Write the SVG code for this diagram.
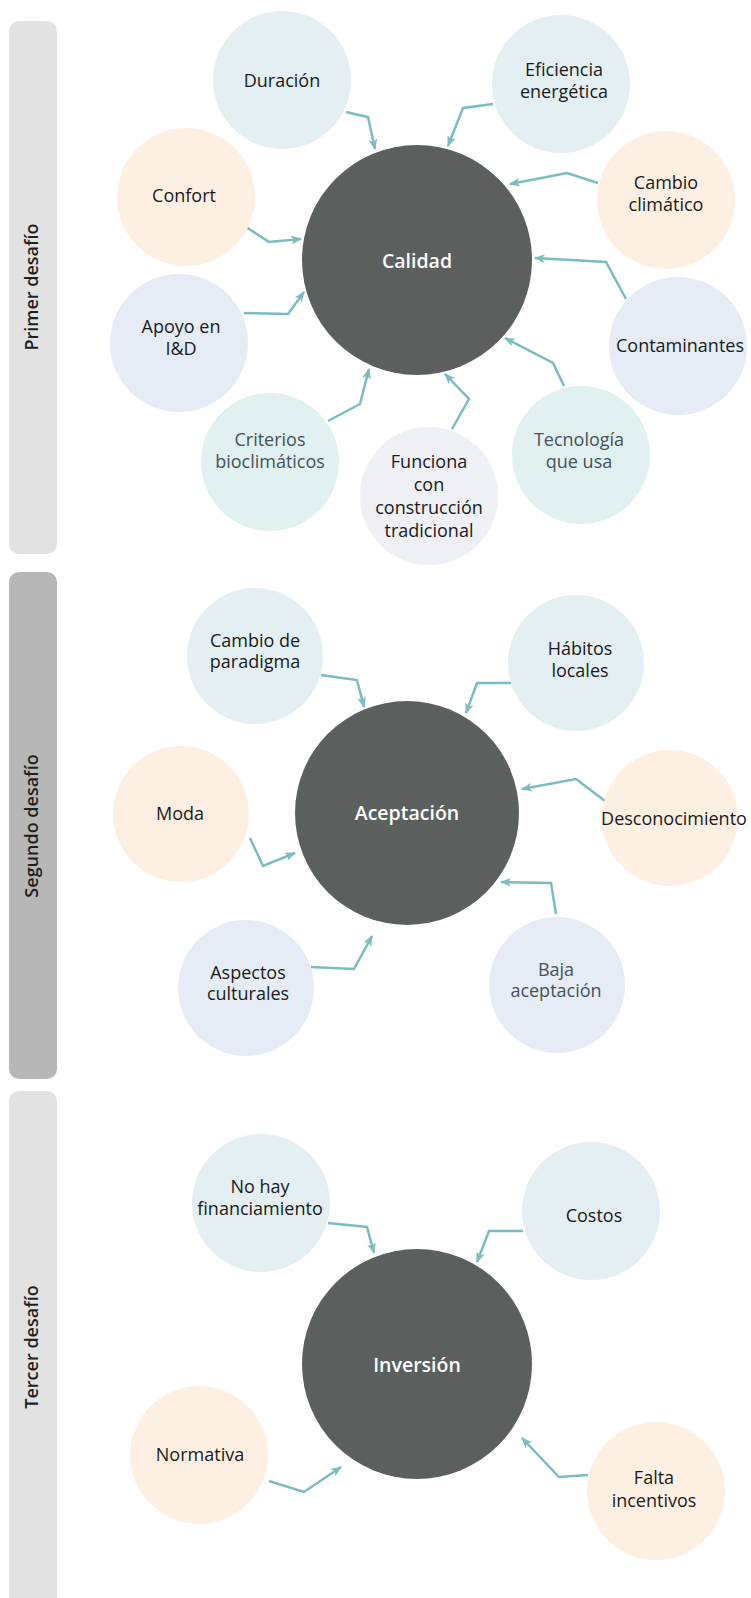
<svg xmlns="http://www.w3.org/2000/svg" width="751" height="1598" viewBox="0 0 751 1598">
<defs>
<style>
.bar1{fill:#e2e2e2}
.bar2{fill:#b6b7b6}
.side{font-family:"Open Sans","Noto Sans",sans-serif;font-size:18px;font-weight:600;fill:#1f1f1f;text-anchor:middle}
.blue{fill:#e3eff3}
.peach{fill:#fdf0e3}
.lav{fill:#e5ecf6}
.teal{fill:#e1f0f0}
.lilac{fill:#efeff6}
.hub{fill:#5b605f}
.t{font-family:"Open Sans","Noto Sans",sans-serif;font-size:18px;fill:#1a1a1a;text-anchor:middle}
.tg{fill:#46525a}
.th{font-family:"Open Sans","Noto Sans",sans-serif;font-size:19.5px;font-weight:600;fill:#ffffff;text-anchor:middle}
.c{fill:none;stroke:#7bbcc0;stroke-width:2.5;stroke-linejoin:miter;marker-end:url(#ah)}
</style>
<marker id="ah" viewBox="0 0 10 8" markerWidth="11" markerHeight="9" refX="9" refY="4" orient="auto" markerUnits="userSpaceOnUse">
<path d="M0,0 L10,4 L0,8 L2.5,4 z" fill="#7bbcc0"/>
</marker>
</defs>

<g id="bars">
<rect class="bar1" x="9" y="21" width="48" height="533" rx="10"/>
<rect class="bar2" x="9" y="572" width="48" height="507" rx="10"/>
<rect class="bar1" x="9" y="1091" width="48" height="520" rx="10"/>
<text class="side" transform="translate(38,287) rotate(-90)">Primer desafío</text>
<text class="side" transform="translate(38,826) rotate(-90)">Segundo desafío</text>
<text class="side" transform="translate(38,1347) rotate(-90)">Tercer desafío</text>
</g>

<g id="connectors">
<polyline class="c" points="346,112 368,117 375,149"/>
<polyline class="c" points="493,104 463,108 448,146"/>
<polyline class="c" points="598,183 567,173 510,184"/>
<polyline class="c" points="626,299 606,262 535,258"/>
<polyline class="c" points="564,386 553,363 505,338"/>
<polyline class="c" points="452,429 469,399 445,374"/>
<polyline class="c" points="328,421 360,404 369,369"/>
<polyline class="c" points="244,313 288,314 304,292"/>
<polyline class="c" points="246,227 269,242 301,239"/>
<polyline class="c" points="321,675 357,680 364,707"/>
<polyline class="c" points="250,838 263,866 295,853"/>
<polyline class="c" points="311,967 354,969 372,936"/>
<polyline class="c" points="511,683 477,683 466,713"/>
<polyline class="c" points="605,801 576,779 522,789"/>
<polyline class="c" points="556,914 551,883 501,882"/>
<polyline class="c" points="328,1223 367,1227 374,1253"/>
<polyline class="c" points="269,1481 304,1492 341,1467"/>
<polyline class="c" points="523,1231 489,1231 477,1262"/>
<polyline class="c" points="588,1475 559,1477 522,1438"/>
</g>

<g id="calidad"><circle class="hub" cx="417" cy="260" r="115"/><text class="th" x="417" y="268">Calidad</text></g>
<g id="duracion"><circle class="blue" cx="282" cy="80" r="69"/><text class="t" x="282" y="87">Duración</text></g>
<g id="eficiencia"><circle class="blue" cx="561" cy="84" r="69"/><text class="t" x="564" y="76">Eficiencia</text><text class="t" x="564" y="98">energética</text></g>
<g id="confort"><circle class="peach" cx="186" cy="197" r="69"/><text class="t" x="184" y="202">Confort</text></g>
<g id="cambio-climatico"><circle class="peach" cx="666" cy="200" r="69"/><text class="t" x="666" y="189">Cambio</text><text class="t" x="666" y="211">climático</text></g>
<g id="apoyo"><circle class="lav" cx="179" cy="343" r="69"/><text class="t" x="181" y="333">Apoyo en</text><text class="t" x="181" y="355">I&amp;D</text></g>
<g id="contaminantes"><circle class="lav" cx="678" cy="346" r="69"/><text class="t" x="680" y="352">Contaminantes</text></g>
<g id="criterios"><circle class="teal" cx="270" cy="462" r="69"/><text class="t tg" x="270" y="446">Criterios</text><text class="t tg" x="270" y="468">bioclimáticos</text></g>
<g id="funciona"><circle class="lilac" cx="429" cy="496" r="69"/><text class="t" x="429" y="468">Funciona</text><text class="t" x="429" y="491">con</text><text class="t" x="429" y="514">construcción</text><text class="t" x="429" y="537">tradicional</text></g>
<g id="tecnologia"><circle class="teal" cx="581" cy="455" r="69"/><text class="t tg" x="579" y="446">Tecnología</text><text class="t tg" x="579" y="468">que usa</text></g>

<g id="aceptacion"><circle class="hub" cx="407" cy="813" r="112"/><text class="th" x="407" y="820">Aceptación</text></g>
<g id="cambio-paradigma"><circle class="blue" cx="255" cy="656" r="68"/><text class="t" x="255" y="647">Cambio de</text><text class="t" x="255" y="668">paradigma</text></g>
<g id="habitos"><circle class="blue" cx="576" cy="663" r="68"/><text class="t" x="580" y="655">Hábitos</text><text class="t" x="580" y="677">locales</text></g>
<g id="moda"><circle class="peach" cx="181" cy="814" r="68"/><text class="t" x="180" y="820">Moda</text></g>
<g id="desconocimiento"><circle class="peach" cx="670" cy="818" r="68"/><text class="t" x="674" y="825">Desconocimiento</text></g>
<g id="aspectos"><circle class="lav" cx="246" cy="988" r="68"/><text class="t" x="248" y="979">Aspectos</text><text class="t" x="248" y="1000">culturales</text></g>
<g id="baja"><circle class="lav" cx="557" cy="985" r="68"/><text class="t tg" x="556" y="976">Baja</text><text class="t tg" x="556" y="997">aceptación</text></g>

<g id="inversion"><circle class="hub" cx="417" cy="1364" r="115"/><text class="th" x="417" y="1372">Inversión</text></g>
<g id="no-hay"><circle class="blue" cx="261" cy="1203" r="69"/><text class="t" x="260" y="1193">No hay</text><text class="t" x="260" y="1215">financiamiento</text></g>
<g id="costos"><circle class="blue" cx="591" cy="1211" r="69"/><text class="t" x="594" y="1222">Costos</text></g>
<g id="normativa"><circle class="peach" cx="199" cy="1455" r="69"/><text class="t" x="200" y="1461">Normativa</text></g>
<g id="falta"><circle class="peach" cx="656" cy="1491" r="69"/><text class="t" x="654" y="1484">Falta</text><text class="t" x="654" y="1507">incentivos</text></g>
</svg>
